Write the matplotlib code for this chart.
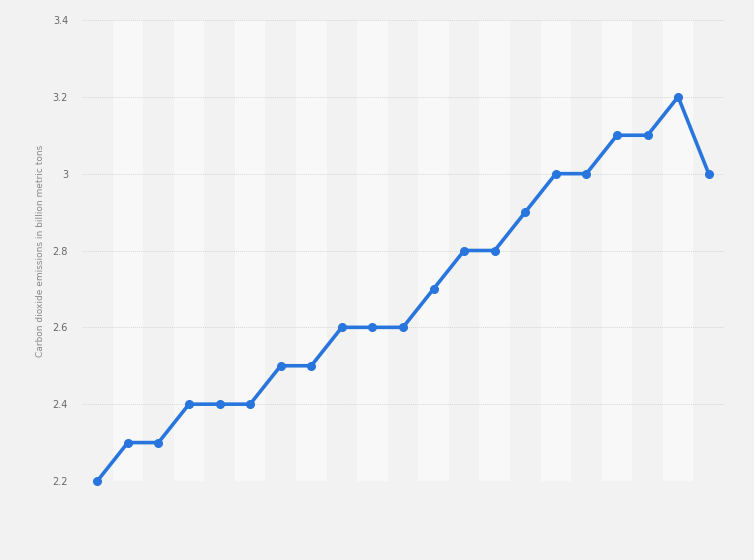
import matplotlib.pyplot as plt
import numpy as np

# valeurs (21 points, pas de libellés en x)
emissions = [2.2, 2.3, 2.3, 2.4, 2.4, 2.4, 2.5, 2.5, 2.6, 2.6, 2.6,
             2.7, 2.8, 2.8, 2.9, 3.0, 3.0, 3.1, 3.1, 3.2, 3.0]
y_ticks = [2.2, 2.4, 2.6, 2.8, 3.0, 3.2, 3.4]
y_tick_labels = ['2.2', '2.4', '2.6', '2.8', '3', '3.2', '3.4']
y_label = 'Carbon dioxide emissions in billion metric tons'

x = np.arange(len(emissions))

fig = plt.figure(figsize=(7.54, 5.6), dpi=100)
fig.patch.set_facecolor('#f2f2f2')
ax = fig.add_axes([82/754, 1 - 481/560, 642/754, 461/560])
ax.set_facecolor('#f2f2f2')

# bandes claires une colonne sur deux
for i in x[1::2]:
    ax.axvspan(i - 0.5, i + 0.5, color='#f8f8f8', lw=0, zorder=0)

ax.plot(x, emissions, color='#2876dd', lw=2.6, marker='o', ms=5.5,
        solid_joinstyle='round', zorder=3, clip_on=False)

ax.set_xlim(-0.5, len(emissions) - 0.5)
ax.set_ylim(2.2, 3.4)
ax.set_yticks(y_ticks)
ax.set_yticklabels(y_tick_labels, fontsize=7, color='#666666')
ax.set_xticks([])
ax.tick_params(axis='y', length=0, pad=10)
ax.grid(axis='y', color='#d6d6d6', linestyle=(0, (1, 1)), lw=0.7, zorder=1)
for s in ax.spines.values():
    s.set_visible(False)

ax.set_ylabel(y_label, fontsize=6.5, color='#888888')
ax.yaxis.set_label_coords(-0.057, 0.5)

fig.savefig('out.png', dpi=100, facecolor=fig.get_facecolor())
